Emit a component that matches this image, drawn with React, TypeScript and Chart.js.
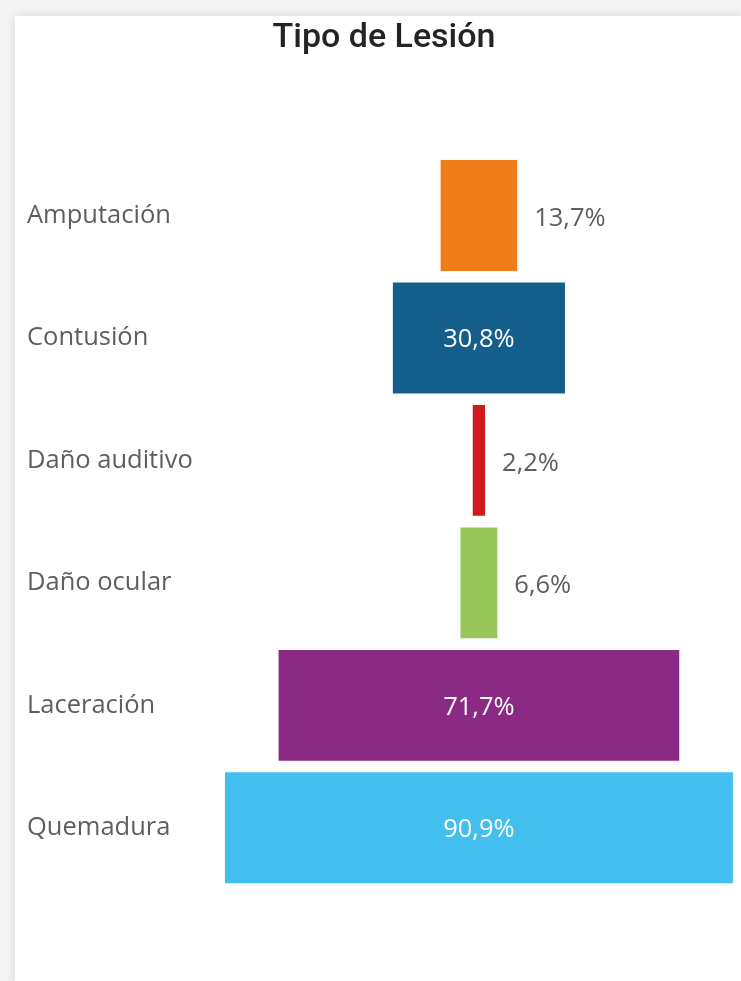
import React, { useEffect, useRef } from "react";
import { Chart, registerables } from "chart.js";

Chart.register(...registerables);

const categories = ["Amputación", "Contusión", "Daño auditivo", "Daño ocular", "Laceración", "Quemadura"];
const values = [13.7, 30.8, 2.2, 6.6, 71.7, 90.9];
const barColors = ["#EE7D1A", "#145E8B", "#D11A1F", "#97C65A", "#8B2A85", "#42BFEF"];
const titleText = "Tipo de Lesión";

const fmt = (v: number) => v.toFixed(1).replace(".", ",") + "%";

const LABEL_SIZE = 25.5;
const LABEL_FONT = `${LABEL_SIZE}px 'Open Sans'`;

const valueLabels = {
  id: "valueLabels",
  afterDatasetsDraw(chart: any) {
    const ctx = chart.ctx;
    const meta = chart.getDatasetMeta(0);
    ctx.save();
    ctx.font = LABEL_FONT;
    ctx.textBaseline = "middle";
    meta.data.forEach((bar: any, i: number) => {
      const text = fmt(values[i]);
      const w = ctx.measureText(text).width;
      const left = Math.min(bar.x, bar.base);
      const right = Math.max(bar.x, bar.base);
      if (w + 12 < right - left) {
        ctx.fillStyle = "#FFFFFF";
        ctx.textAlign = "center";
        ctx.fillText(text, (left + right) / 2, bar.y + 2);
      } else {
        ctx.fillStyle = "#605E5C";
        ctx.textAlign = "left";
        ctx.fillText(text, right + 17, bar.y + 3);
      }
    });
    ctx.restore();
  },
};

export default function App() {
  const canvasRef = useRef<HTMLCanvasElement | null>(null);

  useEffect(() => {
    if (!canvasRef.current) return;
    const chart = new Chart(canvasRef.current, {
      type: "bar",
      data: {
        labels: categories,
        datasets: [
          {
            data: values.map((v) => [-v / 2, v / 2]) as any,
            backgroundColor: barColors,
            borderWidth: 0,
            barPercentage: 0.905,
            categoryPercentage: 1,
          },
        ],
      },
      options: {
        indexAxis: "y",
        responsive: true,
        maintainAspectRatio: false,
        animation: false,
        layout: { padding: { left: 27, right: 0, top: 0, bottom: 92 } },
        plugins: {
          legend: { display: false },
          tooltip: { enabled: false },
          title: {
            display: true,
            text: titleText,
            color: "#252423",
            font: { family: "Roboto", size: 34, weight: "500" as any },
            padding: { top: 18.5, bottom: 95 },
          },
        },
        scales: {
          x: {
            display: false,
            min: -50,
            max: 46.9,
          },
          y: {
            grid: { display: false },
            border: { display: false },
            ticks: {
              crossAlign: "far",
              color: "#605E5C",
              font: { family: "Open Sans", size: LABEL_SIZE },
              padding: 0,
            },
            afterFit(scale: any) {
              scale.width = 172.5;
            },
          },
        },
      },
      plugins: [valueLabels],
    });
    return () => chart.destroy();
  }, []);

  return (
    <div style={{ position: "fixed", inset: 0, background: "#F3F3F3" }}>
      <div
        style={{
          position: "absolute",
          left: 15,
          top: 16,
          right: 0,
          bottom: 0,
          background: "#FFFFFF",
          boxShadow: "0 0 10px rgba(0,0,0,0.12)",
        }}
      />
      <div style={{ position: "absolute", left: 0, top: 0, width: 741, height: 981 }}>
        <canvas ref={canvasRef} />
      </div>
    </div>
  );
}
